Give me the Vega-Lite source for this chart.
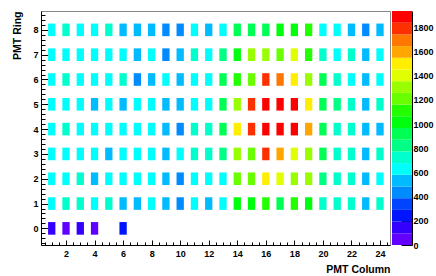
{
  "$schema": "https://vega.github.io/schema/vega-lite/v6.json",
  "padding": {"left": 12, "top": 10, "right": 0, "bottom": 0},
  "background": "white",
  "spacing": 1,
  "config": {
    "view": {"stroke": "#888888"},
    "font": "Liberation Sans",
    "axis": {
      "labelFont": "Liberation Sans", "labelFontWeight": "bold", "labelFontSize": 9, "labelColor": "black",
      "titleFont": "Liberation Sans", "titleFontWeight": "bold", "titleFontSize": 10.5, "titleColor": "black",
      "domainColor": "black", "tickColor": "black", "grid": false
    }
  },
  "datasets": {
    "cells": [
      {"col":1,"ring":8,"v":629},{"col":2,"ring":8,"v":726},{"col":3,"ring":8,"v":629},{"col":4,"ring":8,"v":629},{"col":5,"ring":8,"v":726},{"col":6,"ring":8,"v":532},{"col":7,"ring":8,"v":532},{"col":8,"ring":8,"v":532},{"col":9,"ring":8,"v":435},{"col":10,"ring":8,"v":435},{"col":11,"ring":8,"v":629},{"col":12,"ring":8,"v":532},
      {"col":13,"ring":8,"v":629},{"col":14,"ring":8,"v":919},{"col":15,"ring":8,"v":919},{"col":16,"ring":8,"v":919},{"col":17,"ring":8,"v":1016},{"col":18,"ring":8,"v":1016},{"col":19,"ring":8,"v":1113},{"col":20,"ring":8,"v":629},{"col":21,"ring":8,"v":629},{"col":22,"ring":8,"v":532},{"col":23,"ring":8,"v":435},{"col":24,"ring":8,"v":532},
      {"col":1,"ring":7,"v":629},{"col":2,"ring":7,"v":629},{"col":3,"ring":7,"v":629},{"col":4,"ring":7,"v":629},{"col":5,"ring":7,"v":629},{"col":6,"ring":7,"v":629},{"col":7,"ring":7,"v":532},{"col":8,"ring":7,"v":629},{"col":9,"ring":7,"v":435},{"col":10,"ring":7,"v":532},{"col":11,"ring":7,"v":726},{"col":12,"ring":7,"v":629},
      {"col":13,"ring":7,"v":822},{"col":14,"ring":7,"v":1016},{"col":15,"ring":7,"v":1306},{"col":16,"ring":7,"v":1306},{"col":17,"ring":7,"v":1209},{"col":18,"ring":7,"v":1403},{"col":19,"ring":7,"v":1113},{"col":20,"ring":7,"v":726},{"col":21,"ring":7,"v":629},{"col":22,"ring":7,"v":726},{"col":23,"ring":7,"v":532},{"col":24,"ring":7,"v":629},
      {"col":1,"ring":6,"v":629},{"col":2,"ring":6,"v":726},{"col":3,"ring":6,"v":629},{"col":4,"ring":6,"v":629},{"col":5,"ring":6,"v":629},{"col":6,"ring":6,"v":726},{"col":7,"ring":6,"v":435},{"col":8,"ring":6,"v":532},{"col":9,"ring":6,"v":629},{"col":10,"ring":6,"v":532},{"col":11,"ring":6,"v":629},{"col":12,"ring":6,"v":629},
      {"col":13,"ring":6,"v":919},{"col":14,"ring":6,"v":1113},{"col":15,"ring":6,"v":1209},{"col":16,"ring":6,"v":1790},{"col":17,"ring":6,"v":1693},{"col":18,"ring":6,"v":1500},{"col":19,"ring":6,"v":1306},{"col":20,"ring":6,"v":919},{"col":21,"ring":6,"v":726},{"col":22,"ring":6,"v":629},{"col":23,"ring":6,"v":532},{"col":24,"ring":6,"v":629},
      {"col":1,"ring":5,"v":629},{"col":2,"ring":5,"v":629},{"col":3,"ring":5,"v":629},{"col":4,"ring":5,"v":532},{"col":5,"ring":5,"v":629},{"col":6,"ring":5,"v":532},{"col":7,"ring":5,"v":629},{"col":8,"ring":5,"v":629},{"col":9,"ring":5,"v":532},{"col":10,"ring":5,"v":532},{"col":11,"ring":5,"v":629},{"col":12,"ring":5,"v":629},
      {"col":13,"ring":5,"v":919},{"col":14,"ring":5,"v":1306},{"col":15,"ring":5,"v":1790},{"col":16,"ring":5,"v":1887},{"col":17,"ring":5,"v":1887},{"col":18,"ring":5,"v":1887},{"col":19,"ring":5,"v":1500},{"col":20,"ring":5,"v":919},{"col":21,"ring":5,"v":822},{"col":22,"ring":5,"v":726},{"col":23,"ring":5,"v":532},{"col":24,"ring":5,"v":726},
      {"col":1,"ring":4,"v":629},{"col":2,"ring":4,"v":726},{"col":3,"ring":4,"v":629},{"col":4,"ring":4,"v":629},{"col":5,"ring":4,"v":629},{"col":6,"ring":4,"v":629},{"col":7,"ring":4,"v":629},{"col":8,"ring":4,"v":629},{"col":9,"ring":4,"v":532},{"col":10,"ring":4,"v":435},{"col":11,"ring":4,"v":726},{"col":12,"ring":4,"v":726},
      {"col":13,"ring":4,"v":919},{"col":14,"ring":4,"v":1500},{"col":15,"ring":4,"v":1790},{"col":16,"ring":4,"v":1887},{"col":17,"ring":4,"v":1887},{"col":18,"ring":4,"v":1887},{"col":19,"ring":4,"v":1596},{"col":20,"ring":4,"v":919},{"col":21,"ring":4,"v":726},{"col":22,"ring":4,"v":726},{"col":23,"ring":4,"v":532},{"col":24,"ring":4,"v":532},
      {"col":1,"ring":3,"v":629},{"col":2,"ring":3,"v":629},{"col":3,"ring":3,"v":629},{"col":4,"ring":3,"v":629},{"col":5,"ring":3,"v":532},{"col":6,"ring":3,"v":629},{"col":7,"ring":3,"v":629},{"col":8,"ring":3,"v":629},{"col":9,"ring":3,"v":532},{"col":10,"ring":3,"v":629},{"col":11,"ring":3,"v":726},{"col":12,"ring":3,"v":726},
      {"col":13,"ring":3,"v":822},{"col":14,"ring":3,"v":1306},{"col":15,"ring":3,"v":1209},{"col":16,"ring":3,"v":1790},{"col":17,"ring":3,"v":1596},{"col":18,"ring":3,"v":1403},{"col":19,"ring":3,"v":1306},{"col":20,"ring":3,"v":919},{"col":21,"ring":3,"v":726},{"col":22,"ring":3,"v":726},{"col":23,"ring":3,"v":532},{"col":24,"ring":3,"v":726},
      {"col":1,"ring":2,"v":629},{"col":2,"ring":2,"v":629},{"col":3,"ring":2,"v":726},{"col":4,"ring":2,"v":532},{"col":5,"ring":2,"v":629},{"col":6,"ring":2,"v":629},{"col":7,"ring":2,"v":629},{"col":8,"ring":2,"v":629},{"col":9,"ring":2,"v":532},{"col":10,"ring":2,"v":435},{"col":11,"ring":2,"v":629},{"col":12,"ring":2,"v":629},
      {"col":13,"ring":2,"v":629},{"col":14,"ring":2,"v":1209},{"col":15,"ring":2,"v":1209},{"col":16,"ring":2,"v":1500},{"col":17,"ring":2,"v":1403},{"col":18,"ring":2,"v":1306},{"col":19,"ring":2,"v":1306},{"col":20,"ring":2,"v":822},{"col":21,"ring":2,"v":726},{"col":22,"ring":2,"v":726},{"col":23,"ring":2,"v":532},{"col":24,"ring":2,"v":629},
      {"col":1,"ring":1,"v":629},{"col":2,"ring":1,"v":726},{"col":3,"ring":1,"v":726},{"col":4,"ring":1,"v":629},{"col":5,"ring":1,"v":726},{"col":6,"ring":1,"v":532},{"col":7,"ring":1,"v":532},{"col":8,"ring":1,"v":629},{"col":9,"ring":1,"v":532},{"col":10,"ring":1,"v":435},{"col":11,"ring":1,"v":629},{"col":12,"ring":1,"v":532},
      {"col":13,"ring":1,"v":629},{"col":14,"ring":1,"v":1016},{"col":15,"ring":1,"v":1016},{"col":16,"ring":1,"v":1113},{"col":17,"ring":1,"v":919},{"col":18,"ring":1,"v":1113},{"col":19,"ring":1,"v":1016},{"col":20,"ring":1,"v":726},{"col":21,"ring":1,"v":726},{"col":22,"ring":1,"v":726},{"col":23,"ring":1,"v":532},{"col":24,"ring":1,"v":726},
      {"col":1,"ring":0,"v":145},{"col":2,"ring":0,"v":48},{"col":3,"ring":0,"v":145},{"col":4,"ring":0,"v":48},{"col":6,"ring":0,"v":242}
    ],
    "bands": [
      {"lo":0,"hi":96.75,"mid":48},{"lo":96.75,"hi":193.5,"mid":145},{"lo":193.5,"hi":290.25,"mid":242},{"lo":290.25,"hi":387,"mid":339},
      {"lo":387,"hi":483.75,"mid":435},{"lo":483.75,"hi":580.5,"mid":532},{"lo":580.5,"hi":677.25,"mid":629},{"lo":677.25,"hi":774,"mid":726},
      {"lo":774,"hi":870.75,"mid":822},{"lo":870.75,"hi":967.5,"mid":919},{"lo":967.5,"hi":1064.25,"mid":1016},{"lo":1064.25,"hi":1161,"mid":1113},
      {"lo":1161,"hi":1257.75,"mid":1209},{"lo":1257.75,"hi":1354.5,"mid":1306},{"lo":1354.5,"hi":1451.25,"mid":1403},{"lo":1451.25,"hi":1548,"mid":1500},
      {"lo":1548,"hi":1644.75,"mid":1596},{"lo":1644.75,"hi":1741.5,"mid":1693},{"lo":1741.5,"hi":1838.25,"mid":1790},{"lo":1838.25,"hi":1935,"mid":1887}
    ]
  },
  "hconcat": [
    {
      "width": 349,
      "height": 234,
      "data": {"name": "cells"},
      "layer": [
        {
          "mark": {"type": "point", "shape": "M-0.58,-1H0.58V1H-0.58Z", "filled": true, "size": 159, "opacity": 1, "strokeWidth": 0},
          "encoding": {
            "x": {"field": "col", "type": "quantitative",
              "scale": {"domain": [0.248, 24.7], "nice": false, "zero": false},
              "axis": {"orient": "bottom", "title": "PMT Column", "titleAnchor": "end", "values": [2,4,6,8,10,12,14,16,18,20,22,24], "tickSize": -5, "labelPadding": 9, "titlePadding": 6}},
            "y": {"field": "ring", "type": "quantitative",
              "scale": {"domain": [-0.67, 8.76], "nice": false, "zero": false},
              "axis": {"orient": "left", "title": "PMT Ring", "titleAnchor": "end", "values": [0,1,2,3,4,5,6,7,8], "tickSize": -7, "labelPadding": 10, "titlePadding": 10}},
            "color": {"field": "v", "type": "quantitative",
              "scale": {"type": "quantize", "domain": [0, 1935], "nice": false, "zero": false,
                "range": ["#6200ff","#3300ff","#0014ff","#0044ff","#008bff","#00bbff","#00fffc","#00ffcc","#00ff85","#00ff55","#00ff0e","#22ff00","#69ff00","#99ff00","#e1ff00","#ffee00","#ffa700","#ff7700","#ff3000","#ff0000"]},
              "legend": null}
          }
        },
        {
          "mark": {"type": "point", "opacity": 0},
          "encoding": {
            "x": {"field": "col", "type": "quantitative",
              "scale": {"domain": [0.248, 24.7], "nice": false, "zero": false},
              "axis": {"orient": "bottom", "title": null, "labels": false, "domain": false, "tickSize": -3,
                "values": [0.5,1,1.5,2,2.5,3,3.5,4,4.5,5,5.5,6,6.5,7,7.5,8,8.5,9,9.5,10,10.5,11,11.5,12,12.5,13,13.5,14,14.5,15,15.5,16,16.5,17,17.5,18,18.5,19,19.5,20,20.5,21,21.5,22,22.5,23,23.5,24,24.5]}},
            "y": {"field": "ring", "type": "quantitative",
              "scale": {"domain": [-0.67, 8.76], "nice": false, "zero": false},
              "axis": {"orient": "left", "title": null, "labels": false, "domain": false, "tickSize": -4,
                "values": [-0.6,-0.4,-0.2,0,0.2,0.4,0.6,0.8,1,1.2,1.4,1.6,1.8,2,2.2,2.4,2.6,2.8,3,3.2,3.4,3.6,3.8,4,4.2,4.4,4.6,4.8,5,5.2,5.4,5.6,5.8,6,6.2,6.4,6.6,6.8,7,7.2,7.4,7.6,7.8,8,8.2,8.4,8.6]}}
          }
        }
      ],
      "resolve": {"axis": {"x": "independent", "y": "independent"}}
    },
    {
      "width": 20,
      "height": 234,
      "view": {"stroke": null},
      "data": {"name": "bands"},
      "mark": {"type": "rect"},
      "encoding": {
        "y": {"field": "lo", "type": "quantitative",
          "scale": {"domain": [0, 1935], "nice": false, "zero": false},
          "axis": {"orient": "right", "title": null, "format": "d", "values": [0,200,400,600,800,1000,1200,1400,1600,1800], "tickSize": -11, "labelPadding": 12}},
        "y2": {"field": "hi"},
        "color": {"field": "mid", "type": "quantitative",
          "scale": {"type": "quantize", "domain": [0, 1935], "nice": false, "zero": false,
            "range": ["#6200ff","#3300ff","#0014ff","#0044ff","#008bff","#00bbff","#00fffc","#00ffcc","#00ff85","#00ff55","#00ff0e","#22ff00","#69ff00","#99ff00","#e1ff00","#ffee00","#ffa700","#ff7700","#ff3000","#ff0000"]},
          "legend": null}
      }
    }
  ]
}
